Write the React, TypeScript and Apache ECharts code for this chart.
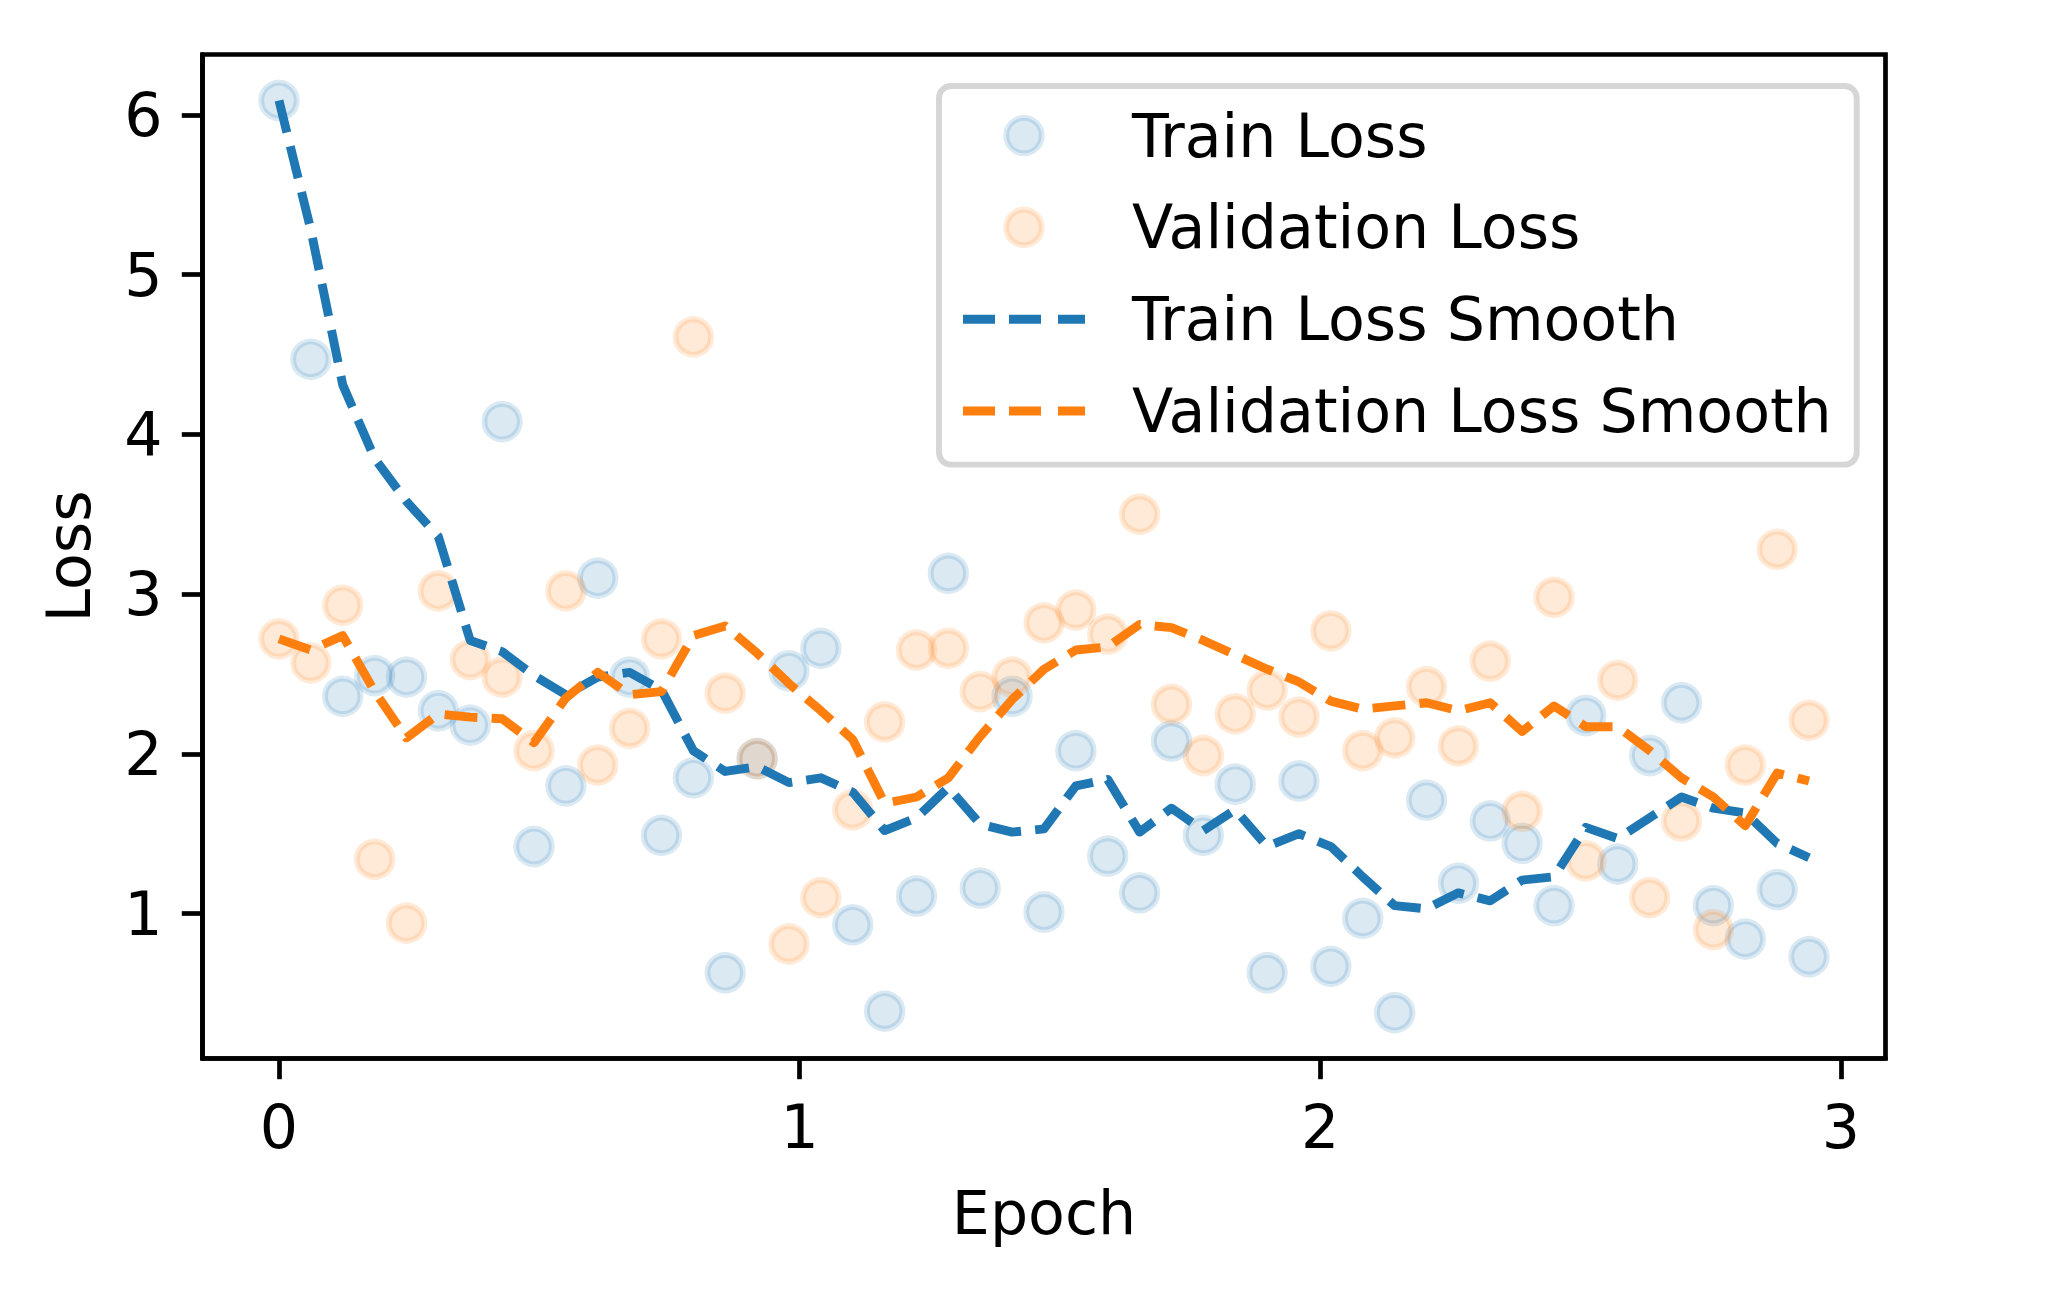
import { useEffect, useRef } from "react";
import * as echarts from "echarts";

// Epoch position of every logged step (49 steps over ~3 epochs)
const epochs = [
  0, 0.0612, 0.1224, 0.1837, 0.2449, 0.3061, 0.3673, 0.4286, 0.4898, 0.551,
  0.6122, 0.6735, 0.7347, 0.7959, 0.8571, 0.9184, 0.9796, 1.0408, 1.102, 1.1633,
  1.2245, 1.2857, 1.3469, 1.4082, 1.4694, 1.5306, 1.5918, 1.6531, 1.7143, 1.7755,
  1.8367, 1.898, 1.9592, 2.0204, 2.0816, 2.1429, 2.2041, 2.2653, 2.3265, 2.3878,
  2.449, 2.5102, 2.5714, 2.6327, 2.6939, 2.7551, 2.8163, 2.8776, 2.9388,
];

const trainLoss = [
  6.09, 4.47, 2.36, 2.49, 2.48, 2.27, 2.18, 4.08, 1.42, 1.8,
  3.1, 2.48, 1.49, 1.85, 0.63, 1.97, 2.52, 2.66, 0.93, 0.39,
  1.11, 3.13, 1.16, 2.36, 1.01, 2.02, 1.36, 1.13, 2.08, 1.49,
  1.81, 0.63, 1.83, 0.67, 0.97, 0.38, 1.71, 1.19, 1.58, 1.44,
  1.05, 2.24, 1.31, 1.99, 2.32, 1.05, 0.84, 1.15, 0.73,
];

const valLoss = [
  2.72, 2.57, 2.93, 1.34, 0.94, 3.02, 2.59, 2.48, 2.02, 3.02,
  1.93, 2.16, 2.72, 4.61, 2.38, 1.97, 0.81, 1.1, 1.65, 2.2,
  2.65, 2.66, 2.39, 2.48, 2.82, 2.9, 2.75, 3.5, 2.31, 1.99,
  2.25, 2.4, 2.23, 2.77, 2.02, 2.1, 2.42, 2.05, 2.58, 1.64,
  2.98, 1.33, 2.46, 1.1, 1.58, 0.9, 1.93, 3.28, 2.21,
];

const trainLossSmooth = [
  6.09, 5.28, 4.31, 3.85, 3.58, 3.36, 2.71, 2.64, 2.49, 2.37,
  2.48, 2.51, 2.4, 2.02, 1.89, 1.92, 1.82, 1.85, 1.76, 1.52,
  1.6, 1.79, 1.56, 1.51, 1.53, 1.8, 1.84, 1.51, 1.66, 1.52,
  1.65, 1.42, 1.5, 1.42, 1.23, 1.05, 1.03, 1.13, 1.08, 1.21,
  1.23, 1.54, 1.47, 1.6, 1.73, 1.66, 1.63, 1.44, 1.35,
];

const valLossSmooth = [
  2.72, 2.65, 2.74, 2.39, 2.1, 2.25, 2.23, 2.22, 2.07, 2.35,
  2.51, 2.37, 2.39, 2.74, 2.8, 2.63, 2.44, 2.27, 2.09, 1.69,
  1.73, 1.85, 2.11, 2.34, 2.53, 2.65, 2.67, 2.81, 2.79, 2.71,
  2.62, 2.53, 2.45, 2.33, 2.28, 2.3, 2.32, 2.27, 2.32, 2.14,
  2.3, 2.17, 2.17, 2.02, 1.85, 1.73, 1.55, 1.88, 1.83,
];

const xTicks = [0, 1, 2, 3];
const yTicks = [1, 2, 3, 4, 5, 6];

const BLUE = "#1f77b4";
const ORANGE = "#ff7f0e";
const BLUE_SOFT = "rgba(31,119,180,0.2)";
const ORANGE_SOFT = "rgba(255,127,14,0.2)";
const FONT = "DejaVu Sans";
const FS = 60.2;

// three-dash legend glyph for the smoothed curves
const DASH_ICON = "path://M0,0H32V9H0Z M46,0H78V9H46Z M95,0H122V9H95Z";

const pairs = (xs: number[], ys: number[]) => xs.map((x, i) => [x, ys[i]]);

const axisText = { fontFamily: FONT, fontSize: FS, color: "#000", lineHeight: FS };

export default function App() {
  const ref = useRef<HTMLDivElement>(null);

  useEffect(() => {
    const chart = echarts.init(ref.current!, null, { renderer: "svg" });
    chart.setOption({
      animation: false,
      backgroundColor: "#ffffff",
      textStyle: { fontFamily: FONT },
      grid: {
        left: 202.5,
        right: 162.5,
        top: 54.5,
        bottom: 243.5,
        show: true,
        borderColor: "#000",
        borderWidth: 4.7,
        backgroundColor: "transparent",
      },
      xAxis: {
        type: "value",
        min: -0.14694,
        max: 3.08571,
        name: "Epoch",
        nameLocation: "middle",
        nameGap: 124,
        nameTextStyle: axisText,
        axisLine: { show: true, onZero: false, lineStyle: { color: "#000", width: 4.7 } },
        axisTick: {
          show: true,
          customValues: xTicks,
          length: 20.7,
          lineStyle: { color: "#000", width: 4.7 },
        },
        axisLabel: { customValues: xTicks, margin: 38.5, ...axisText },
        splitLine: { show: false },
      },
      yAxis: {
        type: "value",
        min: 0.093,
        max: 6.378,
        name: "Loss",
        nameLocation: "middle",
        nameGap: 103,
        nameTextStyle: axisText,
        axisLine: { show: true, onZero: false, lineStyle: { color: "#000", width: 4.7 } },
        axisTick: {
          show: true,
          customValues: yTicks,
          length: 20.7,
          lineStyle: { color: "#000", width: 4.7 },
        },
        axisLabel: { customValues: yTicks, margin: 40, ...axisText },
        splitLine: { show: false },
      },
      legend: {
        orient: "vertical",
        left: 939,
        top: 86,
        padding: [19.5, 25, 23.5, 24],
        itemWidth: 122,
        itemHeight: 35.5,
        itemGap: 31.6,
        selectedMode: false,
        backgroundColor: "rgba(255,255,255,0.8)",
        borderColor: "rgba(204,204,204,0.8)",
        borderWidth: 5.9,
        borderRadius: 12,
        textStyle: {
          fontFamily: FONT,
          fontSize: FS,
          lineHeight: FS,
          color: "#000",
          padding: [0, 0, 0, 42],
        },
        data: [
          {
            name: "Train Loss",
            icon: "circle",
            itemStyle: { color: BLUE_SOFT, borderColor: BLUE_SOFT, borderWidth: 5.9 },
          },
          {
            name: "Validation Loss",
            icon: "circle",
            itemStyle: { color: ORANGE_SOFT, borderColor: ORANGE_SOFT, borderWidth: 5.9 },
          },
          {
            name: "Train Loss Smooth",
            icon: DASH_ICON,
            itemStyle: { color: BLUE, borderWidth: 0 },
          },
          {
            name: "Validation Loss Smooth",
            icon: DASH_ICON,
            itemStyle: { color: ORANGE, borderWidth: 0 },
          },
        ],
      },
      series: [
        {
          name: "Train Loss",
          type: "scatter",
          data: pairs(epochs, trainLoss),
          symbol: "circle",
          symbolSize: 35.5,
          itemStyle: { color: BLUE_SOFT, borderColor: BLUE_SOFT, borderWidth: 5.9 },
          emphasis: { disabled: true },
          z: 2,
        },
        {
          name: "Validation Loss",
          type: "scatter",
          data: pairs(epochs, valLoss),
          symbol: "circle",
          symbolSize: 35.5,
          itemStyle: { color: ORANGE_SOFT, borderColor: ORANGE_SOFT, borderWidth: 5.9 },
          emphasis: { disabled: true },
          z: 2,
        },
        {
          name: "Train Loss Smooth",
          type: "line",
          data: pairs(epochs, trainLossSmooth),
          symbol: "none",
          showSymbol: false,
          itemStyle: { color: BLUE },
          lineStyle: { color: BLUE, width: 8.9, type: [32.9, 14.2], cap: "butt", join: "round" },
          emphasis: { disabled: true },
          z: 3,
        },
        {
          name: "Validation Loss Smooth",
          type: "line",
          data: pairs(epochs, valLossSmooth),
          symbol: "none",
          showSymbol: false,
          itemStyle: { color: ORANGE },
          lineStyle: { color: ORANGE, width: 8.9, type: [32.9, 14.2], cap: "butt", join: "round" },
          emphasis: { disabled: true },
          z: 3,
        },
      ],
    });
    return () => chart.dispose();
  }, []);

  return (
    <div
      ref={ref}
      style={{ position: "fixed", left: 0, top: 0, width: 2048, height: 1302, background: "#fff" }}
    />
  );
}
